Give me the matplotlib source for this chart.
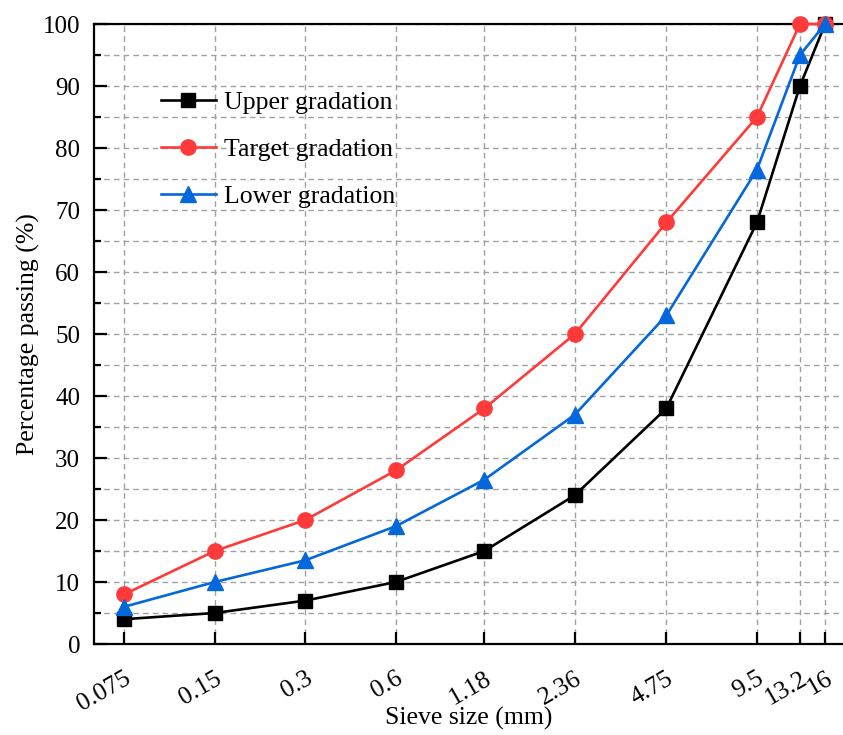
import matplotlib.pyplot as plt
from matplotlib.ticker import FixedLocator, NullFormatter, MultipleLocator

plt.rcParams['font.family'] = ['Liberation Serif', 'DejaVu Serif']

# Sieve sizes (mm) and passing percentages
sieve_sizes = [0.075, 0.15, 0.3, 0.6, 1.18, 2.36, 4.75, 9.5, 13.2, 16]
sieve_labels = ['0.075', '0.15', '0.3', '0.6', '1.18', '2.36', '4.75', '9.5', '13.2', '16']
upper = [4, 5, 7, 10, 15, 24, 38, 68, 90, 100]
target = [8, 15, 20, 28, 38, 50, 68, 85, 100, 100]
lower = [6, 10, 13.5, 19, 26.5, 37, 53, 76.5, 95, 100]

fig = plt.figure(figsize=(8.43, 7.35), dpi=100)
ax = fig.add_axes([0.1115, 0.1238, 0.8885, 0.8435])

ax.plot(sieve_sizes, upper, color='black', marker='s', markersize=10, lw=1.9,
        label='Upper gradation', clip_on=False, zorder=3)
ax.plot(sieve_sizes, target, color='#FF3A3A', marker='o', markersize=11, lw=1.9,
        label='Target gradation', clip_on=False, zorder=4)
ax.plot(sieve_sizes, lower, color='#0468DC', marker='^', markersize=11, lw=1.9,
        label='Lower gradation', clip_on=False, zorder=5)

ax.set_xscale('log')
ax.set_xlim(0.0596, 18.35)
ax.set_ylim(0, 100)
ax.xaxis.set_major_locator(FixedLocator(sieve_sizes))
ax.xaxis.set_minor_locator(FixedLocator([]))
ax.xaxis.set_minor_formatter(NullFormatter())
ax.set_xticklabels(sieve_labels, rotation=30, ha='right', va='top',
                   rotation_mode='anchor', fontsize=18.5)
ax.yaxis.set_major_locator(MultipleLocator(10))
ax.yaxis.set_minor_locator(MultipleLocator(5))
ax.tick_params(axis='y', labelsize=18, pad=10)

ax.tick_params(which='major', direction='in', length=9, width=1.6)
ax.tick_params(which='minor', direction='in', length=5, width=1.6)
ax.tick_params(axis='x', pad=17)
ax.grid(True, which='both', color='#a0a0a0', linestyle=(0, (4, 3)), lw=1.0)
ax.set_axisbelow(True)

for side in ['left', 'bottom', 'top']:
    ax.spines[side].set_linewidth(1.6)
ax.spines['right'].set_visible(False)

ax.set_xlabel('Sieve size (mm)', fontsize=18.5, labelpad=-6)
ax.set_ylabel('Percentage passing (%)', fontsize=18.5, labelpad=2)

ax.legend(loc='upper left', bbox_to_anchor=(0.058, 0.93), frameon=False, fontsize=18.5,
          handlelength=2.15, labelspacing=0.95, handletextpad=0.3)

fig.savefig('out.png', dpi=100)
